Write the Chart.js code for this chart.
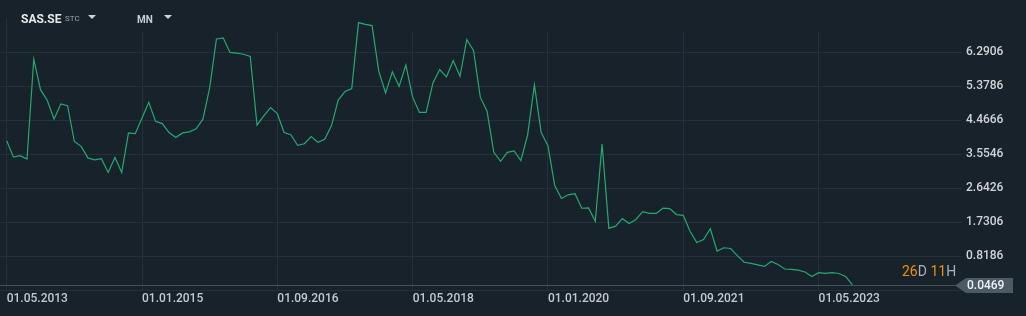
<!DOCTYPE html>
<html>
<head>
<meta charset="utf-8">
<script src="https://cdn.jsdelivr.net/npm/chart.js@4.4.0/dist/chart.umd.min.js"></script>
<style>
    html, body { margin: 0; padding: 0; background: #18222a; }
    #wrap { position: relative; width: 1026px; height: 316px; overflow: hidden; font-family: Roboto, 'Noto Sans', sans-serif; }
    #wrap canvas { position: absolute; left: 0; top: 0; }
    .hdr { position: absolute; white-space: nowrap; }
    .tri { position: absolute; width: 0; height: 0; border-left: 4px solid transparent; border-right: 4px solid transparent; border-top: 4px solid #d0d4d8; }
    #timer { position: absolute; left: 902px; top: 264px; font-size: 14px; line-height: 14px; color: #a9b1b7; }
    #timer b { font-weight: 400; color: #f0900a; }
</style>
</head>
<body>
<div id="wrap">
    <canvas id="chart" width="1026" height="316"></canvas>
    <div class="hdr" style="left:21px;top:12.6px;font-size:12px;line-height:12px;font-weight:700;color:#e6e9ec;">SAS.SE</div>
    <div class="hdr" style="left:65px;top:15px;font-size:8px;line-height:8px;color:#9aa3aa;">STC</div>
    <div class="tri" style="left:88px;top:15px;"></div>
    <div class="hdr" style="left:137px;top:15px;font-size:10px;line-height:10px;font-weight:700;color:#c8cdd1;">MN</div>
    <div class="tri" style="left:164px;top:15px;"></div>
    <div style="position:absolute;left:6px;top:18px;width:1px;height:14px;background:#25303a;"></div>
    <div id="timer"><b>26</b>D <b>11</b>H</div>
</div>
<script>
// Monthly closes, 01.05.2013 .. 01.10.2023
const closes = [
    3.91, 3.47, 3.51, 3.42, 6.10, 5.28, 4.99, 4.49, 4.90, 4.85,
    3.89, 3.76, 3.45, 3.40, 3.43, 3.06, 3.46, 3.06, 4.12, 4.10,
    4.52, 4.94, 4.43, 4.37, 4.13, 4.00, 4.12, 4.15, 4.23, 4.49,
    5.33, 6.64, 6.67, 6.28, 6.26, 6.23, 6.17, 4.33, 4.58, 4.80,
    4.64, 4.13, 4.07, 3.79, 3.83, 4.02, 3.87, 3.95, 4.31, 5.00,
    5.23, 5.31, 7.08, 7.03, 7.00, 5.77, 5.19, 5.76, 5.37, 5.94,
    5.08, 4.67, 4.67, 5.46, 5.82, 5.62, 6.06, 5.64, 6.62, 6.33,
    5.08, 4.70, 3.60, 3.36, 3.60, 3.64, 3.38, 4.07, 5.41, 4.13,
    3.78, 2.71, 2.36, 2.46, 2.49, 2.10, 2.11, 1.75, 3.82, 1.56,
    1.62, 1.82, 1.69, 1.80, 2.01, 1.96, 1.96, 2.10, 2.09, 1.93,
    1.91, 1.48, 1.18, 1.26, 1.55, 0.95, 1.04, 1.02, 0.83, 0.65,
    0.62, 0.58, 0.54, 0.67, 0.59, 0.47, 0.46, 0.44, 0.39, 0.27,
    0.37, 0.35, 0.37, 0.35, 0.27, 0.0469
];

// x ticks: month index from 01.05.2013
const xTickIndex = [0, 20, 40, 60, 80, 100, 120];
const xTickLabels = ['01.05.2013', '01.01.2015', '01.09.2016', '01.05.2018', '01.01.2020', '01.09.2021', '01.05.2023'];

// y ticks on the right axis
const yTicks = [0.8186, 1.7306, 2.6426, 3.5546, 4.4666, 5.3786, 6.2906];
const yMin = -0.0934;
const yMax = 6.8272;
const xMin = -0.99;
const xMax = 141.2;

const lastPrice = 0.0469;
const lastPriceLabel = '0.0469';

const gridColor = '#25303a';
const tickColor = '#c4c9ce';

// Last price line + badge
const lastPricePlugin = {
    id: 'lastPrice',
    afterDatasetsDraw(chart) {
        const { ctx, chartArea, scales } = chart;
        const y = Math.round(scales.y.getPixelForValue(lastPrice)) + 0.5;
        const tip = chartArea.right - 7;

        ctx.save();
        ctx.strokeStyle = '#46525c';
        ctx.lineWidth = 1;
        ctx.beginPath();
        ctx.moveTo(chartArea.left, y);
        ctx.lineTo(tip, y);
        ctx.stroke();

        ctx.fillStyle = '#4c5a65';
        ctx.beginPath();
        ctx.moveTo(tip, y);
        ctx.lineTo(tip + 11, y - 7.5);
        ctx.lineTo(1013, y - 7.5);
        ctx.lineTo(1013, y + 7.5);
        ctx.lineTo(tip + 11, y + 7.5);
        ctx.closePath();
        ctx.fill();

        ctx.fillStyle = '#eef1f3';
        ctx.font = '500 12px Roboto';
        ctx.textAlign = 'left';
        ctx.textBaseline = 'middle';
        ctx.fillText(lastPriceLabel, 967, y + 0.5);
        ctx.restore();
    }
};

const ctx = document.getElementById('chart').getContext('2d');
new Chart(ctx, {
    type: 'line',
    data: {
        datasets: [{
            data: closes.map((v, i) => ({ x: i, y: v })),
            borderColor: '#26a872',
            borderWidth: 1.2,
            pointRadius: 0,
            tension: 0,
            fill: false,
            clip: false
        }]
    },
    options: {
        responsive: false,
        animation: false,
        devicePixelRatio: 1,
        layout: { padding: { top: 32, left: 0, right: 0, bottom: 0 } },
        plugins: {
            legend: { display: false },
            tooltip: { enabled: false }
        },
        scales: {
            x: {
                type: 'linear',
                min: xMin,
                max: xMax,
                afterBuildTicks: s => { s.ticks = xTickIndex.map(v => ({ value: v })); },
                afterFit: s => { s.height = 26; },
                grid: { color: gridColor, drawTicks: false },
                border: { color: gridColor },
                ticks: {
                    color: tickColor,
                    font: { family: 'Roboto', size: 12, weight: '500' },
                    align: 'start',
                    autoSkip: false,
                    maxRotation: 0,
                    padding: 2,
                    callback: (value, index) => xTickLabels[index]
                }
            },
            y: {
                position: 'right',
                min: yMin,
                max: yMax,
                afterBuildTicks: s => { s.ticks = yTicks.map(v => ({ value: v })); },
                afterFit: s => { s.width = 64; },
                grid: { color: gridColor, drawTicks: false },
                border: { display: false },
                ticks: {
                    color: '#d0d4d8',
                    font: { family: 'Roboto', size: 12, weight: '500' },
                    padding: 4,
                    callback: v => v.toFixed(4)
                }
            }
        }
    },
    plugins: [lastPricePlugin]
});
</script>
</body>
</html>
